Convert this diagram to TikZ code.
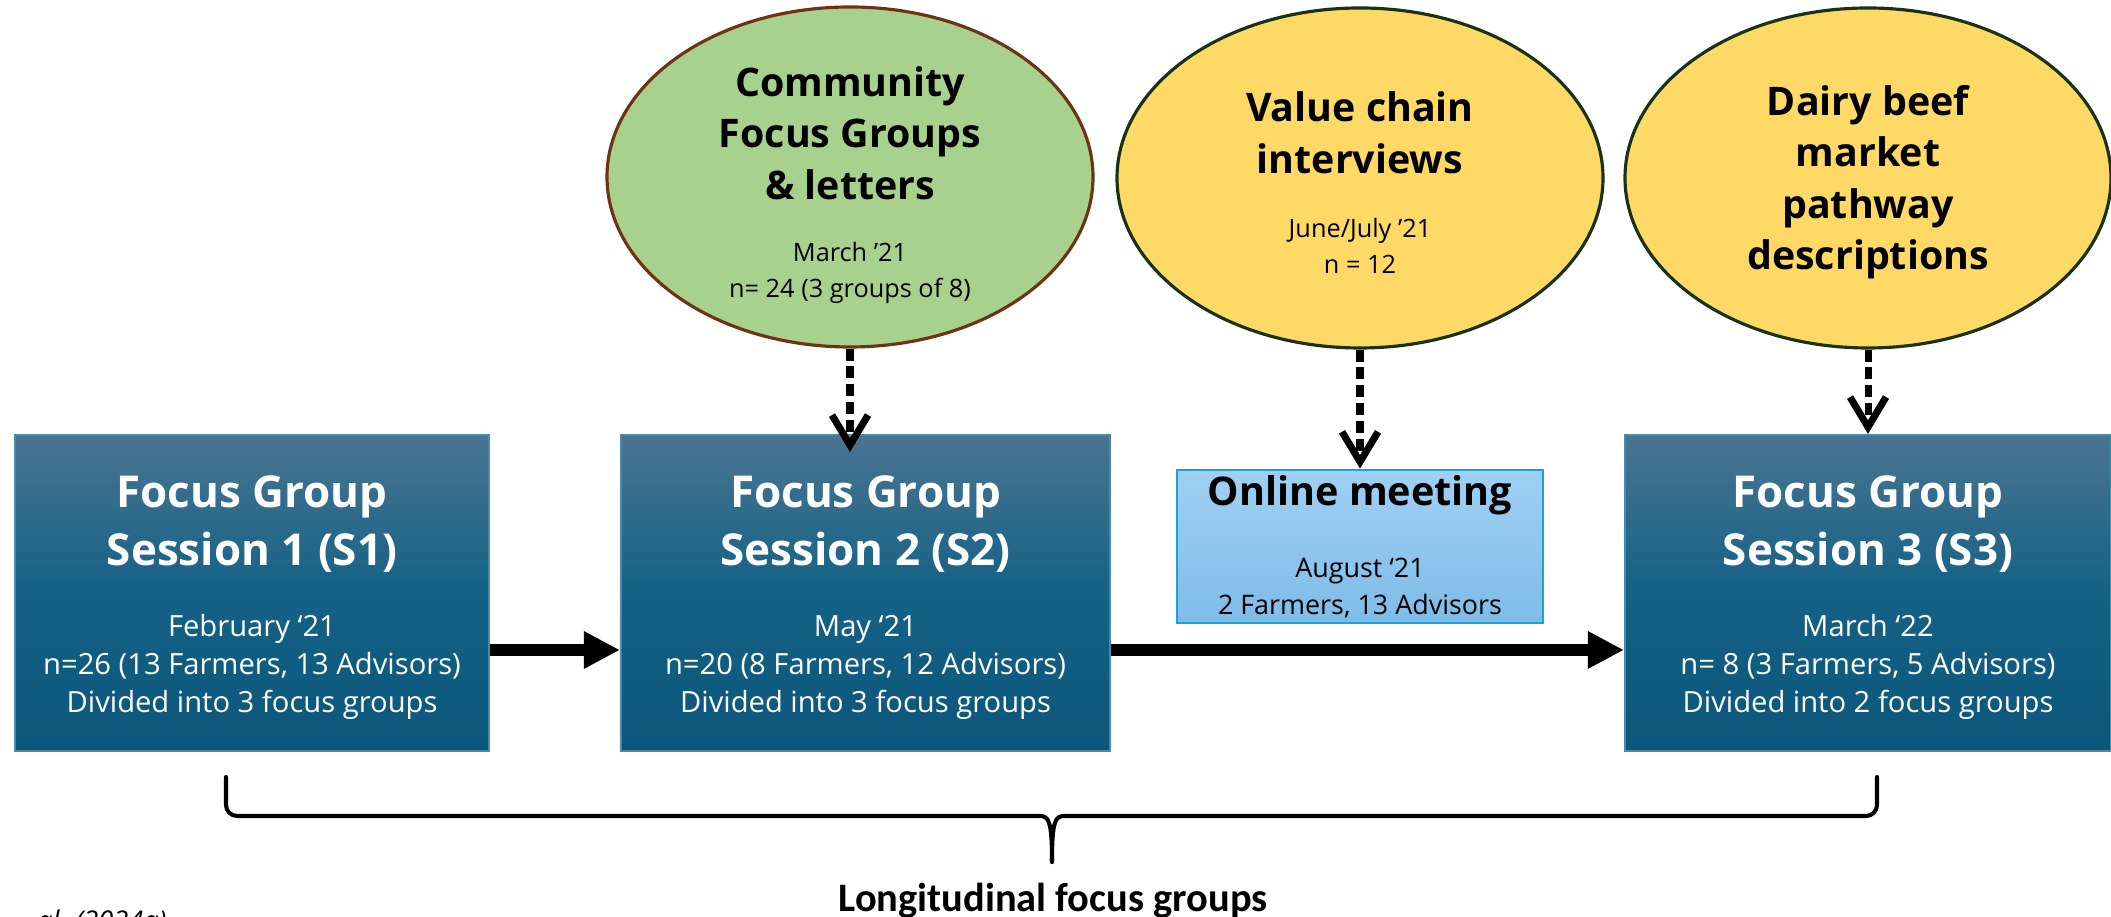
\documentclass[tikz,border=0pt]{standalone}
\usepackage{fontspec}
\setmainfont{Open Sans}
\newfontfamily\narrowfont{Carlito}
\usetikzlibrary{arrows.meta,shapes.geometric,positioning}

\definecolor{sessiontop}{RGB}{74,116,145}
\definecolor{sessionmid}{RGB}{20,98,134}
\definecolor{sessionbot}{RGB}{12,86,122}
\definecolor{sessionedge}{RGB}{70,140,170}
\definecolor{onlinetop}{RGB}{160,208,243}
\definecolor{onlinebot}{RGB}{126,188,233}
\definecolor{onlineedge}{RGB}{30,160,216}
\definecolor{commfill}{RGB}{169,209,142}
\definecolor{commedge}{RGB}{110,50,20}
\definecolor{chainfill}{RGB}{255,217,102}
\definecolor{chainedge}{RGB}{25,50,20}

\begin{document}
\begin{tikzpicture}[
    session/.style={rectangle, draw=sessionedge, line width=1.2pt, top color=sessiontop, bottom color=sessionbot, middle color=sessionmid, minimum width=9.72cm, minimum height=6.32cm},
    sessiontitle/.style={text=white, align=center, font=\fontsize{25}{33}\selectfont\bfseries},
    sessionbody/.style={text=white, align=center, font=\fontsize{16.6}{21.6}\selectfont},
    online/.style={rectangle, draw=onlineedge, line width=1.5pt, top color=onlinetop, bottom color=onlinebot, minimum width=7.32cm, minimum height=3.06cm},
    method/.style={ellipse, line width=1.8pt, minimum width=9.72cm, minimum height=6.8cm, inner sep=0pt},
    methodtitle/.style={align=center, font=\fontsize{22.4}{29.3}\selectfont\bfseries},
    methodbody/.style={align=center, font=\fontsize{14.4}{20.5}\selectfont},
    flow/.style={-{Triangle[length=0.72cm, width=0.7cm]}, line width=6.8pt},
    feed/.style={-{Straight Barb[length=0.6cm, width=0.72cm]}, line width=4pt, dash pattern=on 6.8pt off 3.4pt},
    brace/.style={line width=2.3pt, line cap=round}
]
\useasboundingbox (0,0) rectangle (42.22,18.34);

% Focus group sessions
\node[session, minimum width=9.48cm] (S1) at (5.04,6.48) {};
\node[sessiontitle] (S1t) at ([yshift=1.38cm]S1.center) {Focus Group\\Session 1 (S1)};
\node[sessionbody] (S1b) at ([yshift=-1.48cm]S1.center) {February ‘21\\n=26 (13 Farmers, 13 Advisors)\\Divided into 3 focus groups};

\node[session, minimum width=9.78cm] (S2) at (17.31,6.48) {};
\node[sessiontitle] (S2t) at ([yshift=1.38cm]S2.center) {Focus Group\\Session 2 (S2)};
\node[sessionbody] (S2b) at ([yshift=-1.48cm]S2.center) {May ‘21\\n=20 (8 Farmers, 12 Advisors)\\Divided into 3 focus groups};

\node[session] (S3) at (37.36,6.48) {};
\node[sessiontitle] (S3t) at ([yshift=1.38cm]S3.center) {Focus Group\\Session 3 (S3)};
\node[sessionbody] (S3b) at ([yshift=-1.48cm]S3.center) {March ‘22\\n= 8 (3 Farmers, 5 Advisors)\\Divided into 2 focus groups};

% Online meeting
\node[online] (OM) at (27.2,7.41) {};
\node[methodtitle, font=\fontsize{22.5}{30}\selectfont\bfseries] (OMt) at (27.2,8.44) {Online meeting};
\node[sessionbody, text=black, font=\fontsize{15.3}{21}\selectfont] (OMb) at (27.2,6.58) {August ‘21\\2 Farmers, 13 Advisors};

% Other data sources
\node[method, draw=commedge, fill=commfill] (E1) at (17.0,14.8) {};
\node[methodtitle] (E1t) at (17.0,15.68) {Community\\Focus Groups\\\& letters};
\node[methodbody] (E1b) at (17.0,12.88) {March ’21\\n= 24 (3 groups of 8)};

\node[method, draw=chainedge, fill=chainfill] (E2) at (27.2,14.78) {};
\node[methodtitle] (E2t) at (27.2,15.68) {Value chain\\interviews};
\node[methodbody] (E2b) at (27.2,13.42) {June/July ’21\\n = 12};

\node[method, draw=chainedge, fill=chainfill] (E3) at (37.36,14.78) {};
\node[methodtitle] (E3t) at (37.36,14.7) {Dairy beef\\market\\pathway\\descriptions};

% Arrows
\draw[flow] ([yshift=-1.14cm]S1.east) -- ([yshift=-1.14cm]S2.west);
\draw[flow] ([yshift=-1.14cm]S2.east) -- ([yshift=-1.14cm]S3.west);
\draw[feed, shorten >=-0.36cm] (E1.south) -- (E1.south |- S2.north);
\draw[feed] (E2.south) -- (OM.north);
\draw[feed] (E3.south) -- (E3.south |- S3.north);

% Brace
\coordinate (BL) at (4.52,2.8);
\coordinate (BR) at (37.54,2.8);
\coordinate (BT) at (21.04,1.1);
\draw[brace] (BL) -- ++(0,-0.56) to[out=-90,in=180] ++(0.22,-0.22) -- (20.8,2.02) .. controls (20.98,2.02) and (21.04,1.9) .. (BT);
\draw[brace] (BR) -- ++(0,-0.56) to[out=-90,in=0] ++(-0.22,-0.22) -- (21.28,2.02) .. controls (21.1,2.02) and (21.04,1.9) .. (BT);
\node[font=\narrowfont\fontsize{23}{26}\selectfont\bfseries, anchor=base] (LFG) at (21.06,0.1) {Longitudinal focus groups};

% Citation
\node[font=\fontsize{15.5}{20}\selectfont\itshape, anchor=base east, inner sep=0pt] (cite) at (3.34,-0.28) {al. (2024a)};
\end{tikzpicture}
\end{document}
